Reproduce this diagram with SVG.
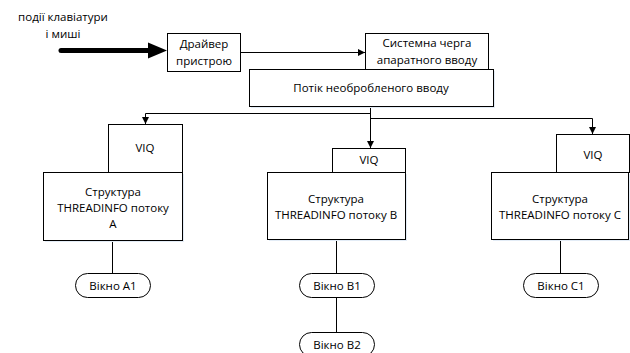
<svg xmlns="http://www.w3.org/2000/svg" width="630" height="353" viewBox="0 0 630 353">
  <defs>
    <marker id="arr" viewBox="0 0 10 10" refX="10" refY="5" markerWidth="7" markerHeight="7" markerUnits="userSpaceOnUse" orient="auto">
      <path d="M0,0 L10,5 L0,10 Z" fill="#000"/>
    </marker>
    <style>
      .box { fill: #fff; stroke: #000; stroke-width: 1; }
      .shadow { fill: #e3ecf6; }
      .lbl { font-family: "Open Sans", "Liberation Sans", sans-serif; font-size: 11.5px; fill: #000; text-anchor: middle; }
      .wire { fill: none; stroke: #000; stroke-width: 1; }
    </style>
  </defs>
  <rect width="630" height="353" fill="#fff"/>

  <!-- input label and thick input arrow -->
  <g id="input">
    <text class="lbl" x="63" y="21" font-size="14">події клавіатури</text>
    <text class="lbl" x="63" y="38" font-size="14">і миші</text>
    <line x1="61" y1="50.5" x2="150" y2="50.5" stroke="#000" stroke-width="5" stroke-linecap="round"/>
    <polygon points="148,42.5 167,50.5 148,58.5" fill="#000"/>
  </g>

  <!-- connectors -->
  <g id="connectors">
    <path class="wire" d="M240,52.5 H365" marker-end="url(#arr)"/>
    <path class="wire" d="M370.5,106 V148" marker-end="url(#arr)"/>
    <path class="wire" d="M370.5,113.5 H145.5 V124" marker-end="url(#arr)"/>
    <path class="wire" d="M370.5,118.5 H592.5 V134" marker-end="url(#arr)"/>
    <path class="wire" d="M112.5,240 V273"/>
    <path class="wire" d="M336.5,239 V273"/>
    <path class="wire" d="M336.5,297 V332"/>
    <path class="wire" d="M560.5,239 V273"/>
  </g>

  <g id="driver">
    <rect class="box" x="167.5" y="33.5" width="73" height="38"/>
    <text class="lbl" x="204" y="48">Драйвер</text>
    <text class="lbl" x="204" y="65">пристрою</text>
  </g>

  <g id="sys-queue">
    <rect class="box" x="365.5" y="33.5" width="123" height="36"/>
    <text class="lbl" x="427" y="47">Системна черга</text>
    <text class="lbl" x="427" y="64">апаратного вводу</text>
  </g>

  <g id="raw-input">
    <rect class="shadow" x="251" y="71" width="244" height="37"/>
    <rect class="box" x="249.5" y="69.5" width="244" height="37"/>
    <text class="lbl" x="371" y="92">Потік необробленого вводу</text>
  </g>

  <g id="thread-a">
    <rect class="box" x="108.5" y="124.5" width="74" height="48"/>
    <text class="lbl" x="145" y="152">VIQ</text>
    <rect class="shadow" x="45" y="174" width="139" height="68"/>
    <rect class="box" x="43.5" y="172.5" width="139" height="68"/>
    <text class="lbl" x="113" y="196">Структура</text>
    <text class="lbl" x="113" y="212">THREADINFO потоку</text>
    <text class="lbl" x="113" y="228">A</text>
  </g>

  <g id="thread-b">
    <rect class="box" x="332.5" y="148.5" width="73" height="24"/>
    <text class="lbl" x="369" y="164">VIQ</text>
    <rect class="shadow" x="269" y="174" width="138" height="67"/>
    <rect class="box" x="267.5" y="172.5" width="138" height="67"/>
    <text class="lbl" x="336" y="203">Структура</text>
    <text class="lbl" x="336" y="219">THREADINFO потоку B</text>
  </g>

  <g id="thread-c">
    <rect class="box" x="556.5" y="134.5" width="73" height="38"/>
    <text class="lbl" x="593" y="159">VIQ</text>
    <rect class="shadow" x="493" y="174" width="137" height="67"/>
    <rect class="box" x="491.5" y="172.5" width="137" height="67"/>
    <text class="lbl" x="560" y="203">Структура</text>
    <text class="lbl" x="560" y="219">THREADINFO потоку C</text>
  </g>

  <g id="window-a1">
    <rect class="box" x="75.5" y="273.5" width="75" height="24" rx="12"/>
    <text class="lbl" x="113" y="289.5">Вікно A1</text>
  </g>
  <g id="window-b1">
    <rect class="box" x="299.5" y="273.5" width="75" height="24" rx="12"/>
    <text class="lbl" x="337" y="289.5">Вікно B1</text>
  </g>
  <g id="window-b2">
    <rect class="box" x="299.5" y="332.5" width="75" height="24" rx="12"/>
    <text class="lbl" x="337" y="348.5">Вікно B2</text>
  </g>
  <g id="window-c1">
    <rect class="box" x="523.5" y="273.5" width="75" height="24" rx="12"/>
    <text class="lbl" x="561" y="289.5">Вікно C1</text>
  </g>
</svg>
